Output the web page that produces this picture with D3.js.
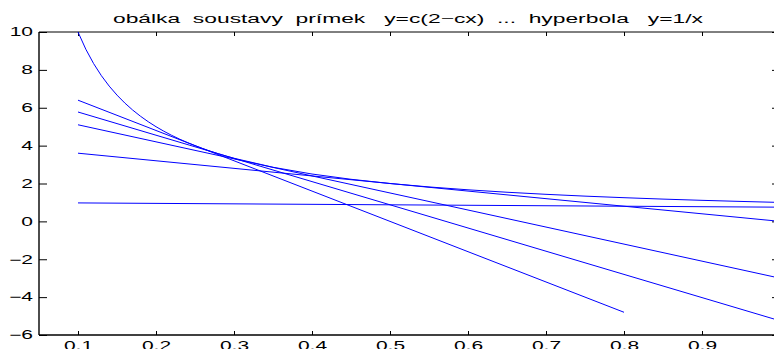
<!DOCTYPE html>
<html>
<head>
<meta charset="utf-8">
<script src="https://cdn.jsdelivr.net/npm/d3@7"></script>
<style>
  html, body { margin: 0; padding: 0; background: #fff; overflow: hidden; }
  text { font-family: "Liberation Sans", Arial, Helvetica, sans-serif; }
</style>
</head>
<body>
<svg id="chart" width="774" height="349"></svg>
<script>
// ---- data ----
const titleText = "obálka  soustavy  prímek   y=c(2−cx)  ...  hyperbola   y=1/x";

const xTicks = [0.1, 0.2, 0.3, 0.4, 0.5, 0.6, 0.7, 0.8, 0.9, 1.0];
const yTicks = [-6, -4, -2, 0, 2, 4, 6, 8, 10];

// hyperbola samples
const hyperX = [0.10, 0.11, 0.12, 0.13, 0.14, 0.15, 0.16, 0.17, 0.18, 0.19, 0.20,
                0.21, 0.22, 0.23, 0.24, 0.25, 0.26, 0.27, 0.28, 0.29, 0.30,
                0.35, 0.40, 0.45, 0.50, 0.55, 0.60, 0.65, 0.70, 0.75, 0.80,
                0.85, 0.90, 0.95, 1.00];
const hyperY = [10.000, 9.091, 8.333, 7.692, 7.143, 6.667, 6.250, 5.882, 5.556, 5.263, 5.000,
                4.762, 4.545, 4.348, 4.167, 4.000, 3.846, 3.704, 3.571, 3.448, 3.333,
                2.857, 2.500, 2.222, 2.000, 1.818, 1.667, 1.538, 1.429, 1.333, 1.250,
                1.176, 1.111, 1.053, 1.000];

// straight lines of the family: start and end points
const lineX0 = [0.1, 0.1, 0.1, 0.1, 0.1];
const lineY0 = [0.975, 3.6, 5.1, 5.775, 6.4];
const lineX1 = [1.0, 1.0, 1.0, 1.0, 0.8];
const lineY1 = [0.75, 0.0, -3.0, -5.25, -4.8];

// ---- layout ----
const W = 774, H = 349;
const plotLeft = 39, plotRight = 780, plotTop = 32, plotBottom = 335;
const stretch = 1.75;          // horizontal stretch of the lettering
const svg = d3.select("#chart");

const x = d3.scaleLinear().domain([0.05, 1.0]).range([plotLeft, plotRight]);
const y = d3.scaleLinear().domain([-6, 10]).range([plotBottom, plotTop]);

const fmt = d => String(d).replace("-", "\u2212");

// ---- axes ----
const gLeft = svg.append("g").attr("transform", `translate(${plotLeft},0)`)
  .call(d3.axisLeft(y).tickValues(yTicks).tickFormat(fmt).tickSizeInner(-8).tickSizeOuter(0).tickPadding(0));
const gBottom = svg.append("g").attr("transform", `translate(0,${plotBottom})`)
  .call(d3.axisBottom(x).tickValues(xTicks).tickFormat(fmt).tickSizeInner(-4).tickSizeOuter(0).tickPadding(6.8));
const gTop = svg.append("g").attr("transform", `translate(0,${plotTop})`)
  .call(d3.axisTop(x).tickValues(xTicks).tickFormat("").tickSizeInner(-4).tickSizeOuter(0));
const gRight = svg.append("g").attr("transform", `translate(${plotRight},0)`)
  .call(d3.axisRight(y).tickValues(yTicks).tickFormat("").tickSizeInner(-8).tickSizeOuter(0));

[gLeft, gBottom, gTop, gRight].forEach(g => {
  g.select(".domain").remove();
  g.selectAll(".tick line").attr("stroke", "#000").attr("stroke-width", 1);
});

gLeft.selectAll(".tick text")
  .attr("x", -6 / stretch)
  .attr("transform", `scale(${stretch},1)`)
  .attr("font-size", 12)
  .attr("fill", "#000");
gBottom.selectAll(".tick text")
  .attr("transform", `scale(${stretch},1)`)
  .attr("font-size", 12)
  .attr("fill", "#000");

// frame
svg.append("line").attr("x1", plotLeft).attr("x2", plotRight).attr("y1", plotTop).attr("y2", plotTop)
  .attr("stroke", "#000").attr("stroke-width", 1);
svg.append("line").attr("x1", plotRight).attr("x2", plotRight).attr("y1", plotTop).attr("y2", plotBottom)
  .attr("stroke", "#000").attr("stroke-width", 1);
svg.append("line").attr("x1", plotLeft).attr("x2", plotRight).attr("y1", plotBottom).attr("y2", plotBottom)
  .attr("stroke", "#000").attr("stroke-width", 1.4);
svg.append("line").attr("x1", plotLeft).attr("x2", plotLeft).attr("y1", plotTop).attr("y2", plotBottom)
  .attr("stroke", "#000").attr("stroke-width", 1.4);

// ---- curves ----
const path = d3.line().x(d => x(d[0])).y(d => y(d[1]));

lineX0.forEach((_, i) => {
  svg.append("path")
    .datum([[lineX0[i], lineY0[i]], [lineX1[i], lineY1[i]]])
    .attr("d", path)
    .attr("fill", "none")
    .attr("stroke", "#0000ff")
    .attr("stroke-width", 1);
});

svg.append("path")
  .datum(hyperX.map((v, i) => [v, hyperY[i]]))
  .attr("d", path)
  .attr("fill", "none")
  .attr("stroke", "#0000ff")
  .attr("stroke-width", 1);

// ---- title ----
svg.append("text")
  .attr("x", 113)
  .attr("y", 22.5)
  .attr("font-size", 12.5)
  .attr("fill", "#000")
  .attr("textLength", 590)
  .attr("lengthAdjust", "spacingAndGlyphs")
  .style("white-space", "pre")
  .text(titleText);
</script>
</body>
</html>
